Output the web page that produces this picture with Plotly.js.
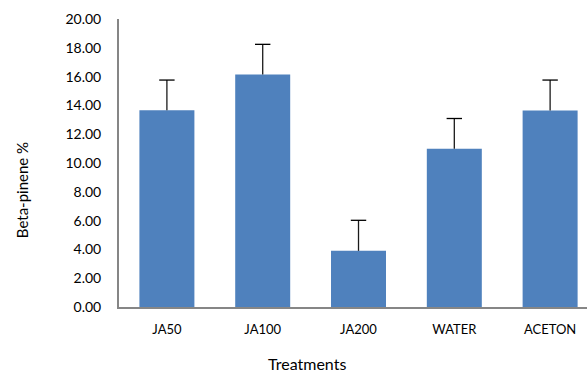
<!DOCTYPE html>
<html>
<head>
<meta charset="utf-8">
<script src="https://cdn.plot.ly/plotly-3.0.1.min.js"></script>
<style>
html,body{margin:0;padding:0;background:#fff;}
#chart{width:587px;height:374px;}
</style>
</head>
<body>
<div id="chart"></div>
<script>
const categories = ["JA50", "JA100", "JA200", "WATER", "ACETON"];
const betaPinene = [13.66, 16.14, 3.90, 10.99, 13.64];
const errorUp = [2.10, 2.10, 2.12, 2.10, 2.12];
const yTickVals = [0, 2, 4, 6, 8, 10, 12, 14, 16, 18, 20];
const yTickText = ["0.00", "2.00", "4.00", "6.00", "8.00", "10.00", "12.00", "14.00", "16.00", "18.00", "20.00"];
const xTitle = "Treatments";
const yTitle = "Beta-pinene %";

const fontFam = "Lato, 'Open Sans', 'Liberation Sans', sans-serif";

const bars = {
  type: "bar",
  x: categories,
  y: betaPinene,
  width: 0.574,
  marker: {color: "#4F81BD", line: {width: 0}},
  error_y: {
    type: "data",
    symmetric: false,
    array: errorUp,
    arrayminus: categories.map(() => 0),
    color: "#1a1a1a",
    thickness: 1.3,
    width: 0
  },
  hoverinfo: "none"
};

const caps = {
  type: "scatter",
  mode: "markers",
  x: categories,
  y: betaPinene.map((v, i) => v + errorUp[i]),
  marker: {symbol: "line-ew", size: 11, line: {color: "#000000", width: 1.3}},
  hoverinfo: "none"
};

const layout = {
  width: 587,
  height: 374,
  margin: {l: 119, r: 0, t: 19, b: 67},
  paper_bgcolor: "#ffffff",
  plot_bgcolor: "#ffffff",
  showlegend: false,
  font: {family: fontFam, size: 12, color: "#000000"},
  xaxis: {
    type: "category",
    range: [-0.5, 4.385],
    showline: true,
    linecolor: "#868686",
    linewidth: 2,
    showgrid: false,
    zeroline: false,
    ticks: "",
    ticklabelstandoff: 9,
    tickfont: {family: fontFam, size: 13, color: "#000"}
  },
  yaxis: {
    range: [0, 20],
    tickvals: yTickVals,
    ticktext: yTickText,
    showline: true,
    linecolor: "#868686",
    linewidth: 2,
    showgrid: false,
    zeroline: false,
    ticks: "",
    ticklabelstandoff: 13,
    tickfont: {family: fontFam, size: 14, color: "#000"}
  },
  annotations: [
    {text: xTitle, xref: "paper", yref: "paper", x: 0.4017, y: -0.196,
     xanchor: "center", yanchor: "middle", showarrow: false,
     font: {family: fontFam, size: 16, color: "#000"}},
    {text: yTitle, xref: "paper", yref: "paper", x: -0.207, y: 0.406,
     xanchor: "center", yanchor: "middle", textangle: -90, showarrow: false,
     font: {family: fontFam, size: 15, color: "#000"}}
  ]
};

Plotly.newPlot("chart", [bars, caps], layout, {displayModeBar: false, staticPlot: true});
</script>
</body>
</html>
